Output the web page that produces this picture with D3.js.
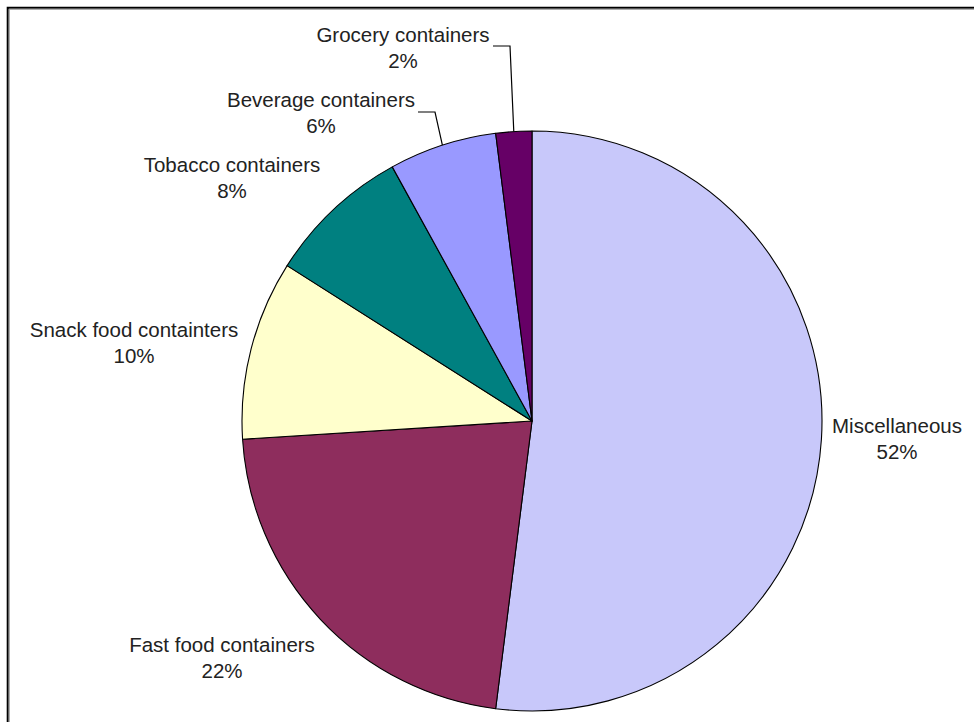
<!DOCTYPE html>
<html>
<head>
<meta charset="utf-8">
<script src="https://cdn.jsdelivr.net/npm/d3@7"></script>
<style>
  html, body { margin: 0; padding: 0; background: #fff; }
  svg { display: block; }
  text { font-family: "Liberation Sans", Arial, sans-serif; fill: #222; }
</style>
</head>
<body>
<svg id="chart" width="974" height="722"></svg>
<script>
// Litter composition by container type (percent of total)
const categories = [
  "Miscellaneous",
  "Fast food containers",
  "Snack food containters",
  "Tobacco containers",
  "Beverage containers",
  "Grocery containers"
];
const values = [52, 22, 10, 8, 6, 2];
const colors = ["#c8c8fa", "#8e2d5d", "#ffffcc", "#008080", "#9999ff", "#660066"];

// Label centres (x) and first-line baselines (y); knee = elbow of a leader line
const labelLayout = {
  "Miscellaneous":          { x: 897, y: 433 },
  "Fast food containers":   { x: 222, y: 652 },
  "Snack food containters": { x: 134, y: 337 },
  "Tobacco containers":     { x: 232, y: 172 },
  "Beverage containers":    { x: 321, y: 107, knee: [418, 435, 112] },
  "Grocery containers":     { x: 403, y: 42,  knee: [493, 510, 46] }
};

const svg = d3.select("#chart");
const W = 974, H = 722;
const cx = 532, cy = 421, R = 290;

// Chart-area frame: dark outer edge with a grey inner line
svg.append("path")
  .attr("d", `M7.7,${H + 5} V7.7 H${W + 5}`)
  .attr("fill", "none").attr("stroke", "#000").attr("stroke-width", 2);
svg.append("path")
  .attr("d", `M9.2,${H + 5} V9.2 H${W + 5}`)
  .attr("fill", "none").attr("stroke", "#8a8a8a").attr("stroke-width", 1);

const data = categories.map((c, i) => ({ name: c, value: values[i], color: colors[i] }));

const pie = d3.pie().sort(null).value(d => d.value);
const arcs = pie(data);
const arc = d3.arc().innerRadius(0).outerRadius(R);

const g = svg.append("g").attr("transform", `translate(${cx},${cy})`);

g.selectAll("path.slice")
  .data(arcs)
  .join("path")
  .attr("class", "slice")
  .attr("d", arc)
  .attr("fill", d => d.data.color)
  .attr("stroke", "#000")
  .attr("stroke-width", 1.1)
  .attr("stroke-linejoin", "round");

// Leader lines for the narrow slices
arcs.forEach(a => {
  const L = labelLayout[a.data.name];
  if (!L.knee) return;
  const mid = (a.startAngle + a.endAngle) / 2;
  const ex = cx + R * Math.sin(mid), ey = cy - R * Math.cos(mid);
  const [x0, x1, y] = L.knee;
  svg.append("path")
    .attr("d", `M${x0},${y} H${x1} L${ex},${ey}`)
    .attr("fill", "none")
    .attr("stroke", "#000")
    .attr("stroke-width", 1.2);
});

// Category and percentage labels
const labels = svg.selectAll("g.label")
  .data(arcs)
  .join("g")
  .attr("class", "label");

labels.append("text")
  .attr("x", d => labelLayout[d.data.name].x)
  .attr("y", d => labelLayout[d.data.name].y)
  .attr("text-anchor", "middle")
  .attr("font-size", 20.5)
  .text(d => d.data.name);

labels.append("text")
  .attr("x", d => labelLayout[d.data.name].x)
  .attr("y", d => labelLayout[d.data.name].y + 26)
  .attr("text-anchor", "middle")
  .attr("font-size", 20.5)
  .text(d => d3.format(".0f")(d.data.value) + "%");
</script>
</body>
</html>
